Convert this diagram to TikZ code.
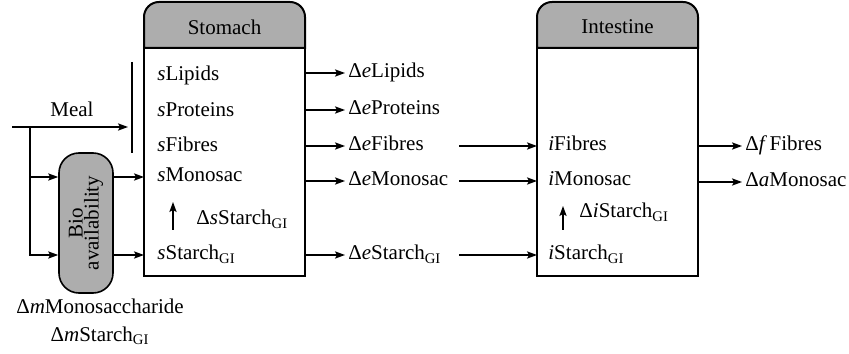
\documentclass[tikz,border=0pt]{standalone}
\usepackage{fontspec}
\setmainfont{Liberation Serif}
\usetikzlibrary{arrows.meta}
\definecolor{hdgray}{gray}{0.68}
\tikzset{
  organ/.style={line width=1pt,fill=hdgray},
  lab/.style={anchor=west,inner sep=1.5pt,text height=7pt,text depth=2pt},
  note/.style={inner sep=1.5pt,text height=7pt,text depth=2pt},
  flow/.style={line width=0.65pt,-{Stealth[length=5pt,width=3.6pt,inset=1pt]}},
  wire/.style={line width=0.65pt},
  bio/.style={draw,line width=0.8pt,fill=hdgray,rounded corners=10pt,rotate=90,
    minimum width=70pt,minimum height=27pt,align=center,inner sep=0pt}
}
\newcommand{\GI}{\textsubscript{GI}}
\begin{document}
\begin{tikzpicture}[x=0.5pt,y=0.5pt,font=\fontsize{10.5}{12}\selectfont]
  \useasboundingbox (0,0) rectangle (849,353);
  \draw[organ] (144,305) -- (144,336) arc[start angle=180,end angle=90,radius=15] -- (290,351)
    arc[start angle=90,end angle=0,radius=15] -- (305,305) -- cycle;
  \draw[line width=1pt] (144,305) rectangle (305,77);
  \draw[organ] (537,305) -- (537,336) arc[start angle=180,end angle=90,radius=15] -- (683,351)
    arc[start angle=90,end angle=0,radius=15] -- (698,305) -- cycle;
  \draw[line width=1pt] (537,305) rectangle (698,77);
  \node (stom) at (224.5,326) {Stomach};
  \node (intest) at (617.5,326) {Intestine};
  \coordinate (sW) at (144,0); \coordinate (sE) at (305,0);
  \coordinate (iW) at (537,0); \coordinate (iE) at (698,0);
  \coordinate (gap) at (459,0);

  \node[lab] (sL) at (154,277) {\textit{s}Lipids};
  \node[lab] (sP) at (154,241) {\textit{s}Proteins};
  \node[lab] (sF) at (154,206) {\textit{s}Fibres};
  \node[lab] (sM) at (154,176) {\textit{s}Monosac};
  \node[lab] (dsS) at (193,133) {Δ\textit{s}Starch\GI};
  \node[lab] (sS) at (154,98) {\textit{s}Starch\GI};
  \coordinate (sUpA) at (173,123); \coordinate (sUpB) at (173,151);
  \draw[flow] (sUpA) -- (sUpB);

  \node[lab] (eL) at (345,280) {Δ\textit{e}Lipids};
  \node[lab] (eP) at (345,243) {Δ\textit{e}Proteins};
  \node[lab] (eF) at (345,207) {Δ\textit{e}Fibres};
  \node[lab] (eM) at (345,172) {Δ\textit{e}Monosac};
  \node[lab] (eS) at (345,98) {Δ\textit{e}Starch\GI};
  \foreach \n in {eL,eP,eF,eM,eS} \draw[flow] (sE |- \n) -- (\n.west);

  \node[lab] (iF) at (545,207) {\textit{i}Fibres};
  \node[lab] (iM) at (545,172) {\textit{i}Monosac};
  \node[lab] (diS) at (576,140) {Δ\textit{i}Starch\GI};
  \node[lab] (iS) at (545,98) {\textit{i}Starch\GI};
  \coordinate (iUpA) at (563,123); \coordinate (iUpB) at (563,147);
  \draw[flow] (iUpA) -- (iUpB);
  \foreach \n in {eF,eM,eS} \draw[flow] (gap |- \n) -- (iW |- \n);

  \node[lab] (fF) at (742,207) {Δ\textit{f}\kern1.2pt Fibres};
  \node[lab] (aM) at (742,171) {Δ\textit{a}Monosac};
  \foreach \n in {fF,aM} \draw[flow] (iE |- \n) -- (\n.west);

  \coordinate (meal) at (12,226); \coordinate (br) at (30,226);
  \coordinate (barT) at (132,291); \coordinate (barB) at (132,200);
  \draw[wire] (barT) -- (barB);
  \draw[flow,shorten >=2pt] (meal) to node[above=1.5pt] (mealtxt) {Meal} (meal -| barT);
  \node[bio] (bio) at (86,130) {Bio\\[-4pt]availability};
  \draw[wire] (br) -- (br |- sM);
  \draw[flow] (br |- sM) -- (bio.north |- sM);
  \draw[flow] (br |- sM) |- (bio.north |- sS);
  \draw[flow] (bio.south |- sM) -- (sW |- sM);
  \draw[flow] (bio.south |- sS) -- (sW |- sS);
  \node[note] (dmM) at (100,45) {Δ\textit{m}Monosaccharide};
  \node[note] (dmS) at (100,17) {Δ\textit{m}Starch\GI};
\end{tikzpicture}
\end{document}
